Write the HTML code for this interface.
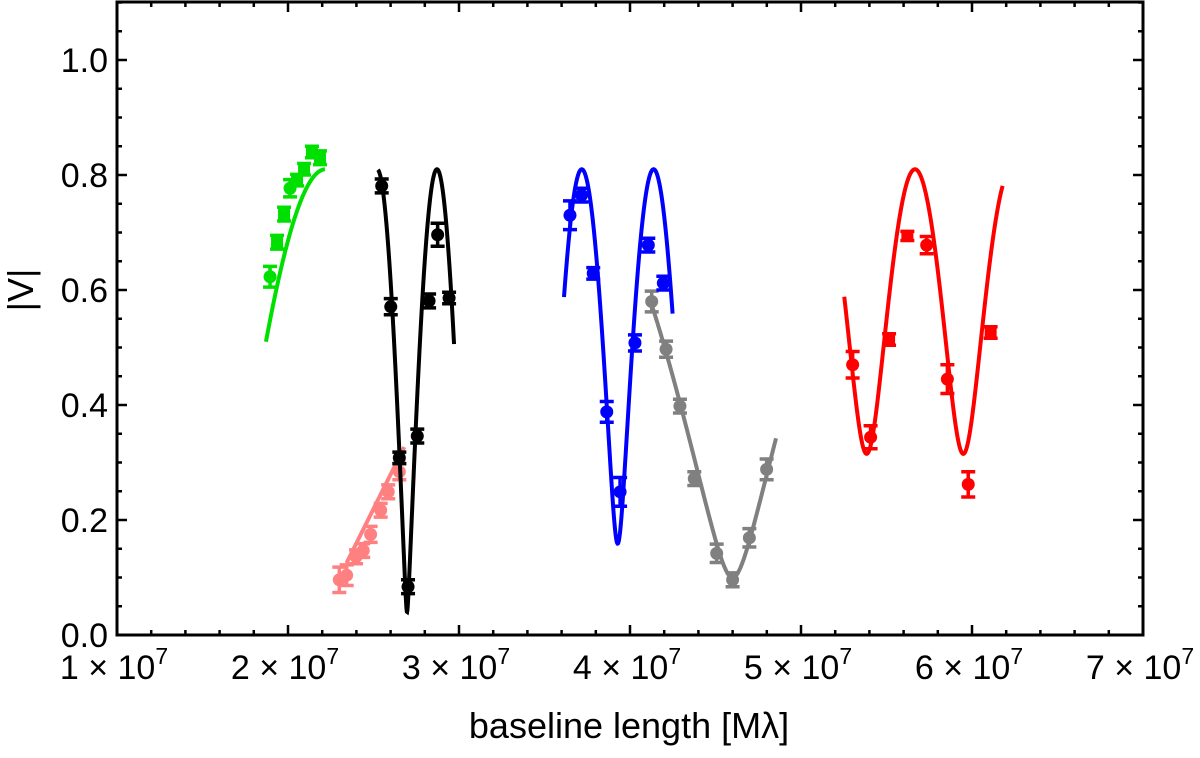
<!DOCTYPE html>
<html><head><meta charset="utf-8"><style>
body{margin:0;background:#fff;}
svg text{font-family:"Liberation Sans",sans-serif;fill:#000;}
</style></head><body>
<svg id="chart" width="1200" height="753" viewBox="0 0 1200 753" xmlns="http://www.w3.org/2000/svg">
<g id="marks"></g>
<rect x="117" y="2" width="1026" height="633" fill="none" stroke="#000" stroke-width="3"/>
<g id="axes"></g>
<text x="629" y="738" font-size="36" text-anchor="middle">baseline length [Mλ]</text>
<text x="0" y="0" font-size="36" text-anchor="middle" transform="translate(33,290) rotate(-90)">|V|</text>
</svg>
<script>
const xTicks = [1,2,3,4,5,6,7];
const yTicks = [0.0,0.2,0.4,0.6,0.8,1.0];
const yTickLabels = ["0.0","0.2","0.4","0.6","0.8","1.0"];

const greenX = [1.895,1.936,1.977,2.012,2.053,2.094,2.140,2.187];
const greenY = [0.623,0.683,0.732,0.777,0.791,0.810,0.840,0.830];
const greenE = [0.018,0.012,0.012,0.015,0.010,0.010,0.010,0.012];
const greenS = ["c","s","s","c","s","s","s","s"];

const blackX = [2.548,2.601,2.651,2.702,2.756,2.825,2.875,2.942];
const blackY = [0.781,0.571,0.308,0.084,0.346,0.581,0.696,0.586];
const blackE = [0.012,0.014,0.010,0.012,0.012,0.012,0.020,0.010];
const blackS = ["c","c","c","c","c","c","c","c"];

const pinkX = [2.300,2.343,2.398,2.440,2.483,2.542,2.586,2.651];
const pinkY = [0.096,0.104,0.136,0.147,0.175,0.217,0.249,0.284];
const pinkE = [0.022,0.018,0.012,0.012,0.014,0.012,0.012,0.014];

const blueX = [3.649,3.717,3.785,3.864,3.942,4.029,4.107,4.195];
const blueY = [0.730,0.765,0.629,0.388,0.249,0.508,0.678,0.612];
const blueE = [0.025,0.012,0.010,0.018,0.025,0.014,0.012,0.012];

const grayX = [4.127,4.211,4.292,4.376,4.507,4.600,4.698,4.799];
const grayY = [0.580,0.497,0.398,0.272,0.142,0.096,0.169,0.288];
const grayE = [0.018,0.014,0.012,0.012,0.016,0.012,0.016,0.018];

const redX = [5.302,5.407,5.515,5.622,5.735,5.856,5.978,6.109];
const redY = [0.470,0.344,0.514,0.694,0.678,0.445,0.262,0.526];
const redE = [0.023,0.020,0.010,0.008,0.015,0.025,0.022,0.010];
const redS = ["c","c","s","s","c","c","c","s"];

// fit model params: [vmax, ratio, xMin(minimum), period, xStart, xEnd]
const greenFit = [0.81,0.90,1.605,1.23,1.871,2.216];
const blackFit = [0.81,0.906,2.696,0.35,2.526,2.971];
const blueFit = [0.81,0.672,3.928,0.42,3.614,4.249];
const grayFit = [0.81,0.78,4.600,1.904,4.127,4.854];
const redFit = [0.81,0.44,5.384,0.565,5.253,6.179];
const pinkLineX = [2.342,2.680];
const pinkLineY = [0.125,0.327];

const NS="http://www.w3.org/2000/svg";
const X = v => 117 + (v-1)*171;
const Y = v => 635 - v*575;
const marks = document.getElementById('marks');
const axes = document.getElementById('axes');
function mk(tag, attrs, parent){const e=document.createElementNS(NS,tag);for(const k in attrs)e.setAttribute(k,attrs[k]);parent.appendChild(e);return e;}

for(let v=1; v<=7.001; v+=0.2){
  const major = Math.abs(v-Math.round(v))<1e-6;
  const L = major?10:5;
  const t1=mk('line',{x1:X(v),x2:X(v),y1:635,y2:635-L,stroke:'#000','stroke-width':2.5},axes);
  
  
  const t2=mk('line',{x1:X(v),x2:X(v),y1:2,y2:2+L,stroke:'#000','stroke-width':2.5},axes);
  
  
}
xTicks.forEach(v=>{
  const t=mk('text',{x:X(v)-3,y:679,'font-size':34,'text-anchor':'middle'},axes);
  
  
  t.innerHTML=v+' × 10<tspan dy="-15" font-size="23">7</tspan>';
});
for(let v=0; v<=1.1001; v+=0.05){
  const major = Math.abs(v*5-Math.round(v*5))<1e-6;
  const L = major?10:5;
  const t1=mk('line',{x1:117,x2:117+L,y1:Y(v),y2:Y(v),stroke:'#000','stroke-width':2.5},axes);
  
  
  const t2=mk('line',{x1:1143,x2:1143-L,y1:Y(v),y2:Y(v),stroke:'#000','stroke-width':2.5},axes);
  
  
}
yTicks.forEach((v,i)=>{
  const t=mk('text',{x:108,y:Y(v)+12,'font-size':34,'text-anchor':'end'},axes);
  
  
  t.textContent=yTickLabels[i];
});

function fitCurve(p,color,name){
  const [vmax,r,x0,P,xs,xe]=p;
  let d='';
  for(let i=0;i<=300;i++){
    const x=xs+(xe-xs)*i/300;
    const phi=Math.PI+2*Math.PI*(x-x0)/P;
    const v=vmax*Math.sqrt(Math.max(0,1+r*r+2*r*Math.cos(phi)))/(1+r);
    d+=(i?'L':'M')+X(x).toFixed(2)+','+Y(v).toFixed(2);
  }
  const e=mk('path',{d:d,fill:'none',stroke:color,'stroke-width':4},marks);
  
  
}
function points(xs,ys,es,shapes,color,name){
  xs.forEach((x,i)=>{
    const cx=X(x),cy=Y(ys[i]),t=Y(ys[i]+es[i]),b=Y(ys[i]-es[i]);
    const g=mk('g',{},marks);
    
    
    mk('path',{d:`M${cx},${t}L${cx},${b}M${cx-7},${t}L${cx+7},${t}M${cx-7},${b}L${cx+7},${b}`,stroke:color,'stroke-width':3.5,fill:'none'},g);
    if(shapes && shapes[i]==='s') mk('rect',{x:cx-6,y:cy-6,width:12,height:12,fill:color},g);
    else mk('circle',{cx:cx,cy:cy,r:6.5,fill:color},g);
  });
}
fitCurve(greenFit,'#00e000','green-fit');
const pl=mk('line',{x1:X(pinkLineX[0]),y1:Y(pinkLineY[0]),x2:X(pinkLineX[1]),y2:Y(pinkLineY[1]),stroke:'#ff8080','stroke-width':4},marks);


points(pinkX,pinkY,pinkE,null,'#ff8080','pink');
fitCurve(blackFit,'#000','black-fit');
points(greenX,greenY,greenE,greenS,'#00e000','green');
points(blackX,blackY,blackE,blackS,'#000','black');
fitCurve(grayFit,'#808080','gray-fit');
points(grayX,grayY,grayE,null,'#808080','gray');
fitCurve(blueFit,'#0000ff','blue-fit');
points(blueX,blueY,blueE,null,'#0000ff','blue');
fitCurve(redFit,'#ff0000','red-fit');
points(redX,redY,redE,redS,'#ff0000','red');
</script>
</body></html>
